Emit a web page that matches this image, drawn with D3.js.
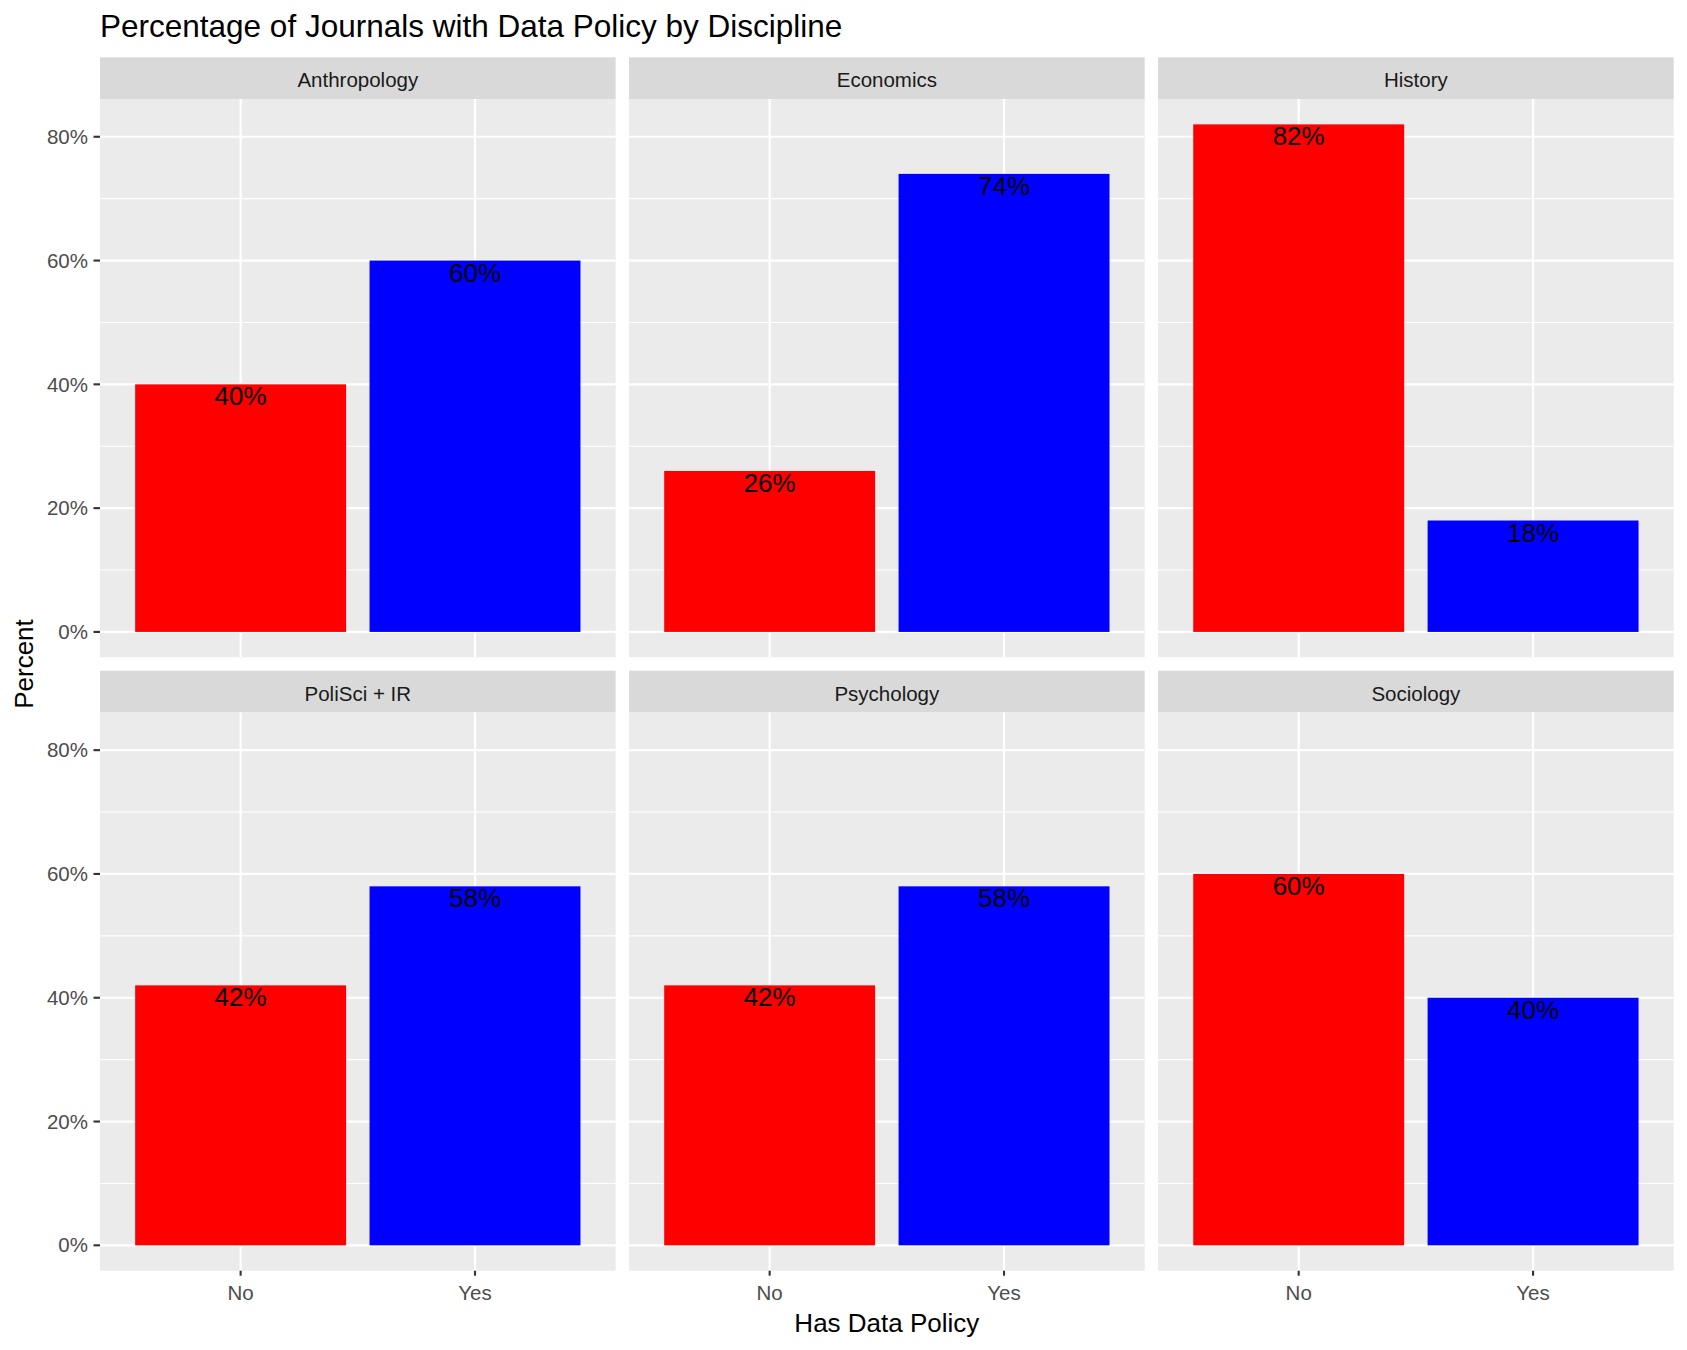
<!DOCTYPE html>
<html>
<head>
<meta charset="utf-8">
<script src="https://cdn.jsdelivr.net/npm/d3@7"></script>
<style>
  html, body { margin: 0; padding: 0; background: #fff; }
  svg text { font-family: "Liberation Sans", Arial, sans-serif; }
</style>
</head>
<body>
<svg id="chart" width="1687" height="1350"></svg>
<script>
// ---- data ----
const disciplines = ["Anthropology", "Economics", "History", "PoliSci + IR", "Psychology", "Sociology"];
const policyCategories = ["No", "Yes"];
const noValues  = [40, 26, 82, 42, 42, 60];
const yesValues = [60, 74, 18, 58, 58, 40];
const yTickValues = [0, 20, 40, 60, 80];
const yMinorValues = [10, 30, 50, 70];
const barColors = ["#FF0000", "#0000FF"];

const titleText = "Percentage of Journals with Data Policy by Discipline";
const xTitle = "Has Data Policy";
const yTitle = "Percent";

// ---- layout ----
const svg = d3.select("#chart");
const W = 1687, H = 1350;
svg.append("rect").attr("width", W).attr("height", H).attr("fill", "#fff");

const plotLeft = 100, plotRight = 1673.7;
const gap = 13.4;
const ncol = 3, nrow = 2;
const panelW = (plotRight - plotLeft - gap * (ncol - 1)) / ncol;
const stripH = 41.7;
const rowTops = [57.3, 670.7];          // strip tops
const panelH = 558.3;

const maxVal = d3.max(noValues.concat(yesValues));
const yExp = maxVal * 0.05;
const y = d3.scaleLinear().domain([-yExp, maxVal + yExp]).range([panelH, 0]);

// discrete positions (expand 0.6 units each side, bar width 0.9)
const xCont = d3.scaleLinear().domain([0.4, 2.6]).range([0, panelW]);
const xPos = c => xCont(policyCategories.indexOf(c) + 1);
const barHalf = (xCont(1.45) - xCont(1));

// title
svg.append("text")
  .attr("x", 100).attr("y", 37)
  .attr("font-size", 31.5)
  .attr("fill", "#000")
  .text(titleText);

disciplines.forEach((disc, i) => {
  const col = i % ncol, row = Math.floor(i / ncol);
  const px = plotLeft + col * (panelW + gap);
  const stripTop = rowTops[row];
  const py = stripTop + stripH;

  // strip
  svg.append("rect").attr("x", px).attr("y", stripTop)
    .attr("width", panelW).attr("height", stripH).attr("fill", "#D9D9D9");
  svg.append("text")
    .attr("x", px + panelW / 2).attr("y", stripTop + stripH / 2 + 2)
    .attr("dy", "0.35em")
    .attr("text-anchor", "middle")
    .attr("font-size", 20.5).attr("fill", "#1A1A1A")
    .text(disc);

  const g = svg.append("g").attr("transform", `translate(${px},${py})`);
  g.append("rect").attr("width", panelW).attr("height", panelH).attr("fill", "#EBEBEB");

  // minor grid
  g.selectAll(".minor").data(yMinorValues).enter().append("line")
    .attr("x1", 0).attr("x2", panelW)
    .attr("y1", d => y(d)).attr("y2", d => y(d))
    .attr("stroke", "#fff").attr("stroke-width", 1.1);
  // major grid
  g.selectAll(".major").data(yTickValues).enter().append("line")
    .attr("x1", 0).attr("x2", panelW)
    .attr("y1", d => y(d)).attr("y2", d => y(d))
    .attr("stroke", "#fff").attr("stroke-width", 2.2);
  g.selectAll(".vmajor").data(policyCategories).enter().append("line")
    .attr("x1", d => xPos(d)).attr("x2", d => xPos(d))
    .attr("y1", 0).attr("y2", panelH)
    .attr("stroke", "#fff").attr("stroke-width", 2.2);

  const vals = [noValues[i], yesValues[i]];
  // bars
  g.selectAll(".bar").data(policyCategories).enter().append("rect")
    .attr("x", (d) => xPos(d) - barHalf)
    .attr("width", barHalf * 2)
    .attr("y", (d, j) => y(vals[j]))
    .attr("height", (d, j) => y(0) - y(vals[j]))
    .attr("fill", (d, j) => barColors[j]);
  // labels
  g.selectAll(".lab").data(policyCategories).enter().append("text")
    .attr("x", d => xPos(d))
    .attr("y", (d, j) => y(vals[j]) + 21)
    .attr("text-anchor", "middle")
    .attr("font-size", 26).attr("fill", "#000")
    .text((d, j) => vals[j] + "%");

  // y axis on first column
  if (col === 0) {
    const ya = g.append("g");
    yTickValues.forEach(t => {
      ya.append("line").attr("x1", -6.5).attr("x2", 0)
        .attr("y1", y(t)).attr("y2", y(t))
        .attr("stroke", "#333").attr("stroke-width", 2.1);
      ya.append("text").attr("x", -12).attr("y", y(t)).attr("dy", "0.35em")
        .attr("text-anchor", "end").attr("font-size", 20.5).attr("fill", "#4D4D4D")
        .text(t + "%");
    });
  }
  // x axis on bottom row
  if (row === nrow - 1) {
    policyCategories.forEach(c => {
      g.append("line").attr("x1", xPos(c)).attr("x2", xPos(c))
        .attr("y1", panelH).attr("y2", panelH + 5)
        .attr("stroke", "#333").attr("stroke-width", 2.1);
      g.append("text").attr("x", xPos(c)).attr("y", panelH + 29)
        .attr("text-anchor", "middle").attr("font-size", 20.5).attr("fill", "#4D4D4D")
        .text(c);
    });
  }
});

// axis titles
svg.append("text")
  .attr("x", (plotLeft + plotRight) / 2).attr("y", 1332)
  .attr("text-anchor", "middle").attr("font-size", 26).attr("fill", "#000")
  .text(xTitle);
svg.append("text")
  .attr("transform", `translate(33,${(rowTops[0] + rowTops[1] + stripH + panelH) / 2}) rotate(-90)`)
  .attr("text-anchor", "middle").attr("font-size", 26).attr("fill", "#000")
  .text(yTitle);
</script>
</body>
</html>
